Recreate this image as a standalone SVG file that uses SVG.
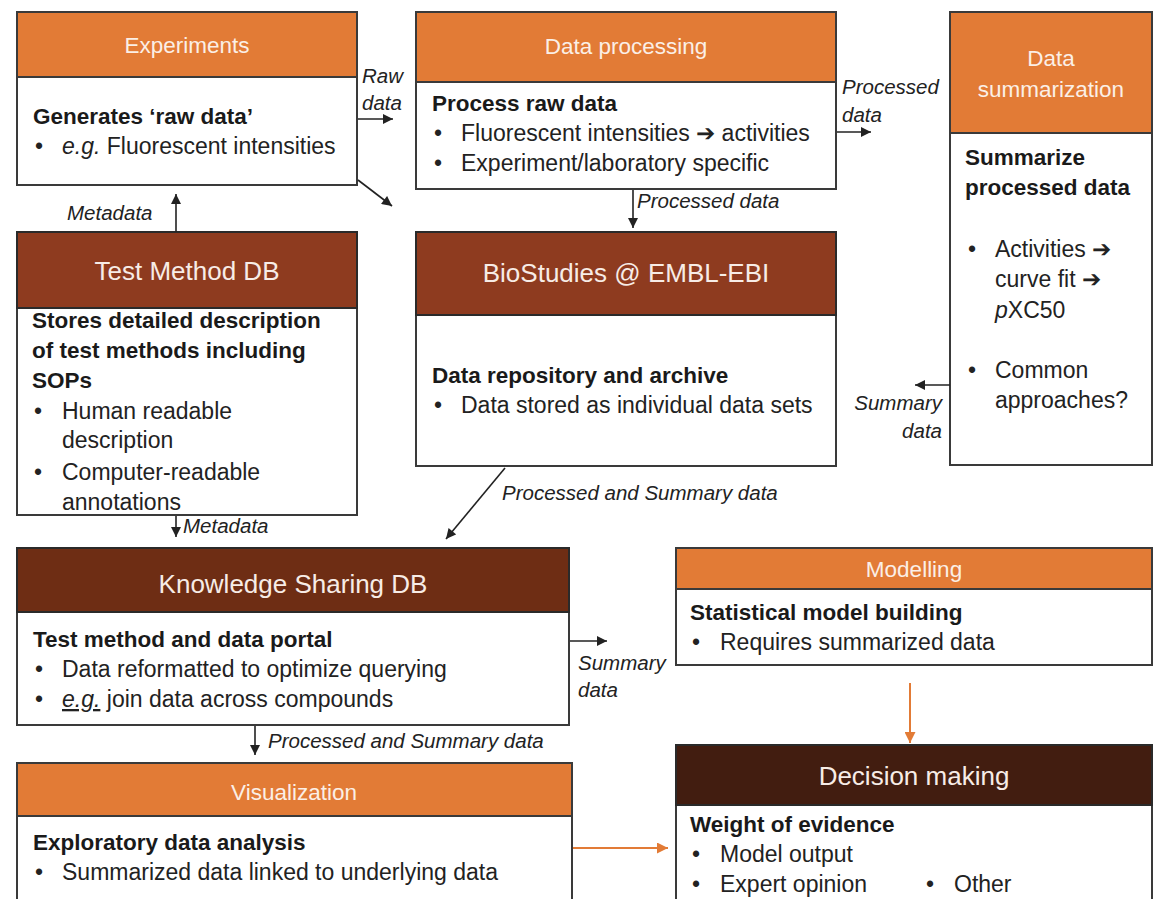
<svg xmlns="http://www.w3.org/2000/svg" width="1157" height="899" viewBox="0 0 1157 899">
<defs>
<style>
.box{fill:#fff;stroke:#3a3a3a;stroke-width:2}
.or{fill:#E27B36;stroke:#3a3a3a;stroke-width:2}
.br{fill:#8E3B1F;stroke:#2a2a2a;stroke-width:2}
.ks{fill:#6E2D14;stroke:#2a2a2a;stroke-width:2}
.dm{fill:#421D10;stroke:#2a2a2a;stroke-width:2}
text{font-family:"Liberation Sans",Arial,sans-serif;fill:#222}
.t1{font-size:22.5px;fill:#FBEFE6;text-anchor:middle}
.t2{font-size:26px;fill:#F7ECE6;text-anchor:middle}
.b{font-size:22.5px;font-weight:bold;fill:#1a1a1a}
.r{font-size:23px}
.l{font-size:20.5px;font-style:italic;fill:#222}
.c{stroke:#222;stroke-width:1.6;fill:none}
.co{stroke:#E27B36;stroke-width:2;fill:none}
</style>
<marker id="ah" viewBox="0 0 10 10" refX="10" refY="5" markerWidth="11" markerHeight="10" markerUnits="userSpaceOnUse" orient="auto"><path d="M0,0 L10,5 L0,10 z" fill="#222"/></marker>
<marker id="aho" viewBox="0 0 10 10" refX="10" refY="5" markerWidth="12" markerHeight="11" markerUnits="userSpaceOnUse" orient="auto"><path d="M0,0 L10,5 L0,10 z" fill="#E27B36"/></marker>
</defs>
<rect width="1157" height="899" fill="#fff"/>

<g id="experiments">
<rect class="box" x="17" y="12" width="340" height="173"/>
<rect class="or" x="17" y="12" width="340" height="65"/>
<text class="t1" x="187" y="53">Experiments</text>
<text class="b" x="33" y="124">Generates ‘raw data’</text>
<text class="r" x="35" y="154">•</text>
<text class="r" x="62" y="154"><tspan font-style="italic">e.g.</tspan> Fluorescent intensities</text>
</g>

<g id="data-processing">
<rect class="box" x="416" y="12" width="420" height="177"/>
<rect class="or" x="416" y="12" width="420" height="70"/>
<text class="t1" x="626" y="54">Data processing</text>
<text class="b" x="432" y="111">Process raw data</text>
<text class="r" x="434" y="141">•</text>
<text class="r" x="461" y="141">Fluorescent intensities ➔ activities</text>
<text class="r" x="434" y="171">•</text>
<text class="r" x="461" y="171">Experiment/laboratory specific</text>
</g>

<g id="data-summarization">
<rect class="box" x="950" y="12" width="202" height="453"/>
<rect class="or" x="950" y="12" width="202" height="121"/>
<text class="t1" x="1051" y="66">Data</text>
<text class="t1" x="1051" y="97">summarization</text>
<text class="b" x="965" y="165">Summarize</text>
<text class="b" x="965" y="195">processed data</text>
<text class="r" x="968" y="257">•</text>
<text class="r" x="995" y="257">Activities ➔</text>
<text class="r" x="995" y="287">curve fit ➔</text>
<text class="r" x="995" y="318"><tspan font-style="italic">p</tspan>XC50</text>
<text class="r" x="968" y="378">•</text>
<text class="r" x="995" y="378">Common</text>
<text class="r" x="995" y="408">approaches?</text>
</g>

<g id="test-method-db">
<rect class="box" x="17" y="232" width="340" height="283"/>
<rect class="br" x="17" y="232" width="340" height="76"/>
<text class="t2" x="187" y="280">Test Method DB</text>
<text class="b" x="32" y="328">Stores detailed description</text>
<text class="b" x="32" y="358">of test methods including</text>
<text class="b" x="32" y="388">SOPs</text>
<text class="r" x="34" y="419">•</text>
<text class="r" x="62" y="419">Human readable</text>
<text class="r" x="62" y="448">description</text>
<text class="r" x="34" y="480">•</text>
<text class="r" x="62" y="480">Computer-readable</text>
<text class="r" x="62" y="510">annotations</text>
</g>

<g id="biostudies">
<rect class="box" x="416" y="232" width="420" height="234"/>
<rect class="br" x="416" y="232" width="420" height="83"/>
<text class="t2" x="626" y="282">BioStudies @ EMBL-EBI</text>
<text class="b" x="432" y="383">Data repository and archive</text>
<text class="r" x="434" y="413">•</text>
<text class="r" x="461" y="413">Data stored as individual data sets</text>
</g>

<g id="knowledge-sharing-db">
<rect class="box" x="17" y="548" width="552" height="177"/>
<rect class="ks" x="17" y="548" width="552" height="64"/>
<text class="t2" x="293" y="593">Knowledge Sharing DB</text>
<text class="b" x="33" y="647">Test method and data portal</text>
<text class="r" x="35" y="677">•</text>
<text class="r" x="62" y="677">Data reformatted to optimize querying</text>
<text class="r" x="35" y="707">•</text>
<text class="r" x="62" y="707"><tspan font-style="italic" text-decoration="underline">e.g.</tspan> join data across compounds</text>
</g>

<g id="modelling">
<rect class="box" x="676" y="548" width="476" height="117"/>
<rect class="or" x="676" y="548" width="476" height="41"/>
<text class="t1" x="914" y="577">Modelling</text>
<text class="b" x="690" y="620">Statistical model building</text>
<text class="r" x="692" y="650">•</text>
<text class="r" x="720" y="650">Requires summarized data</text>
</g>

<g id="visualization">
<rect class="box" x="17" y="763" width="555" height="150"/>
<rect class="or" x="17" y="763" width="555" height="53"/>
<text class="t1" x="294" y="800">Visualization</text>
<text class="b" x="33" y="850">Exploratory data analysis</text>
<text class="r" x="35" y="880">•</text>
<text class="r" x="62" y="880">Summarized data linked to underlying data</text>
</g>

<g id="decision-making">
<rect class="box" x="676" y="745" width="476" height="170"/>
<rect class="dm" x="676" y="745" width="476" height="60"/>
<text class="t2" x="914" y="785">Decision making</text>
<text class="b" x="690" y="832">Weight of evidence</text>
<text class="r" x="692" y="862">•</text>
<text class="r" x="720" y="862">Model output</text>
<text class="r" x="692" y="892">•</text>
<text class="r" x="720" y="892">Expert opinion</text>
<text class="r" x="926" y="892">•</text>
<text class="r" x="954" y="892">Other</text>
</g>

<g id="connectors">
<line class="c" x1="358" y1="119" x2="393" y2="119" marker-end="url(#ah)"/>
<text class="l" x="362" y="83">Raw</text>
<text class="l" x="362" y="110">data</text>
<line class="c" x1="358" y1="180" x2="392" y2="206" marker-end="url(#ah)"/>
<line class="c" x1="176" y1="232" x2="176" y2="194" marker-end="url(#ah)"/>
<text class="l" x="67" y="220">Metadata</text>
<line class="c" x1="837" y1="132" x2="871" y2="132" marker-end="url(#ah)"/>
<text class="l" x="842" y="94">Processed</text>
<text class="l" x="842" y="122">data</text>
<line class="c" x1="633" y1="190" x2="633" y2="228" marker-end="url(#ah)"/>
<text class="l" x="637" y="208">Processed data</text>
<line class="c" x1="950" y1="385" x2="915" y2="385" marker-end="url(#ah)"/>
<text class="l" x="942" y="410" text-anchor="end">Summary</text>
<text class="l" x="942" y="438" text-anchor="end">data</text>
<line class="c" x1="505" y1="468" x2="446" y2="539" marker-end="url(#ah)"/>
<text class="l" x="502" y="500">Processed and Summary data</text>
<line class="c" x1="176" y1="516" x2="176" y2="537" marker-end="url(#ah)"/>
<text class="l" x="183" y="533">Metadata</text>
<line class="c" x1="570" y1="641" x2="607" y2="641" marker-end="url(#ah)"/>
<text class="l" x="578" y="670">Summary</text>
<text class="l" x="578" y="697">data</text>
<line class="co" x1="910" y1="683" x2="910" y2="743" marker-end="url(#aho)"/>
<line class="c" x1="255" y1="726" x2="255" y2="755" marker-end="url(#ah)"/>
<text class="l" x="268" y="748">Processed and Summary data</text>
<line class="co" x1="573" y1="848" x2="668" y2="848" marker-end="url(#aho)"/>
</g>
</svg>
